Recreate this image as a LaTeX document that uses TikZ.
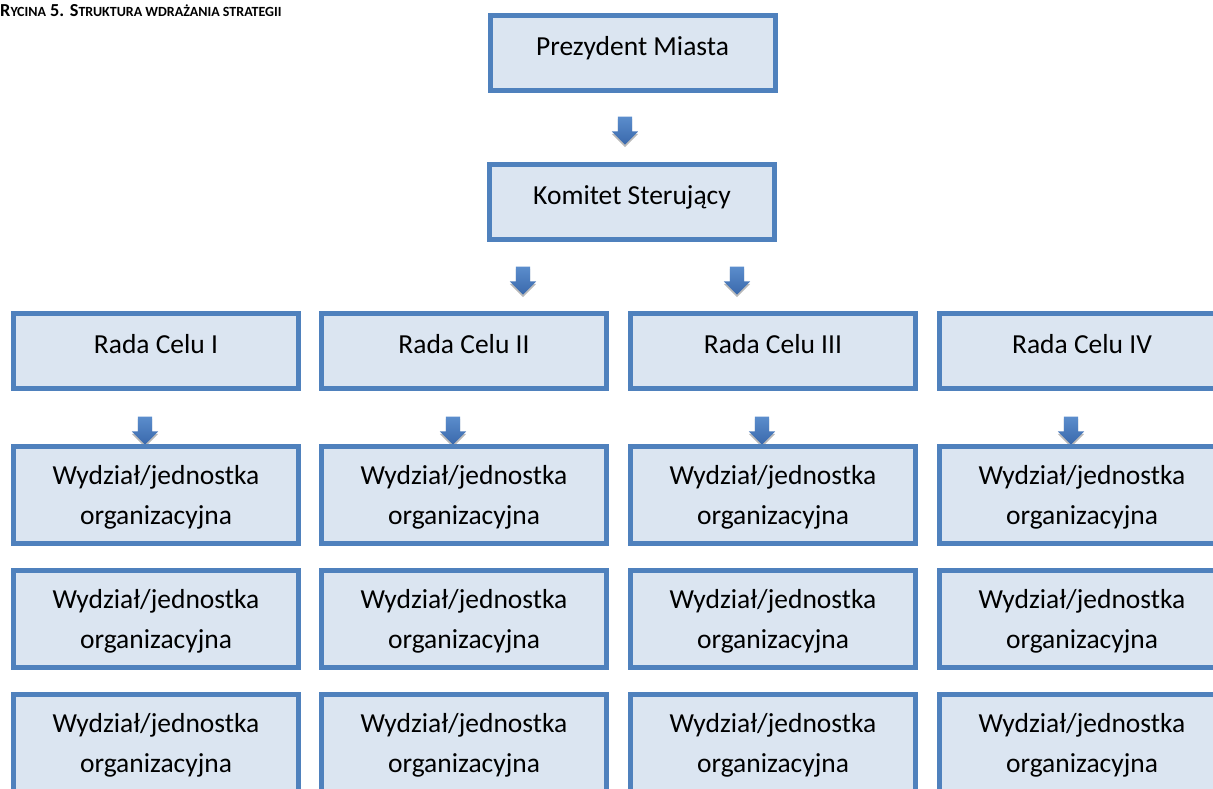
\documentclass[tikz,border=0pt]{standalone}
\usepackage{fontspec}
\setmainfont{Carlito}
\usetikzlibrary{shapes.arrows,shadows}
\definecolor{bbord}{HTML}{4F81BD}
\definecolor{bfill}{HTML}{DBE5F1}
\definecolor{atop}{HTML}{5B8DCC}
\definecolor{abot}{HTML}{3A69AC}
\newcommand\mysc[1]{{\fontsize{14}{16}\selectfont #1}}
\begin{document}
\begin{tikzpicture}[x=1pt,y=-1pt,
  box/.style={draw=bbord, line width=5pt, fill=bfill, minimum width=285pt, inner sep=0pt,
    font=\fontsize{27.5}{40}\selectfont, align=center},
  onebox/.style={box, minimum height=75pt, text depth=14pt},
  twobox/.style={box, minimum height=97pt, text depth=0pt},
  darrow/.style={single arrow, shape border rotate=270, minimum height=28pt, minimum width=26pt,
    single arrow head extend=6pt, single arrow tip angle=90, inner sep=7pt,
    top color=atop, bottom color=abot, draw=none,
    drop shadow={shadow xshift=0pt, shadow yshift=-2.5pt, fill=black!45, opacity=0.6}}
]
\useasboundingbox (0,0) rectangle (1213,788);
\clip (0,0) rectangle (1213,788);
\node[anchor=base west, inner sep=0pt, font=\bfseries\fontsize{18.3}{20}\selectfont] (title) at (0,16)
  {R\mysc{YCINA} 5. S\mysc{TRUKTURA WDRAŻANIA STRATEGII}};

\node[onebox] (prez) at (632.5,53) {Prezydent Miasta};
\node[onebox] (kom) at (632,202) {Komitet Sterujący};

\node[darrow] (a1) at (625,127) {};
\node[darrow] (a2) at (523,277) {};
\node[darrow] (a3) at (737,277) {};

\foreach \i/\cx/\ax/\r in {1/156/145/I,2/464/453/II,3/773/762/III,4/1082/1071/IV}{
  \node[onebox] (rada\i) at (\cx,351) {Rada Celu \r};
  \node[darrow] (b\i) at (\ax,427) {};
  \node[twobox] (w\i a) at (\cx,495) {Wydział/jednostka\\organizacyjna};
  \node[twobox] (w\i b) at (\cx,619) {Wydział/jednostka\\organizacyjna};
  \node[twobox] (w\i c) at (\cx,743) {Wydział/jednostka\\organizacyjna};
}
\end{tikzpicture}
\end{document}
